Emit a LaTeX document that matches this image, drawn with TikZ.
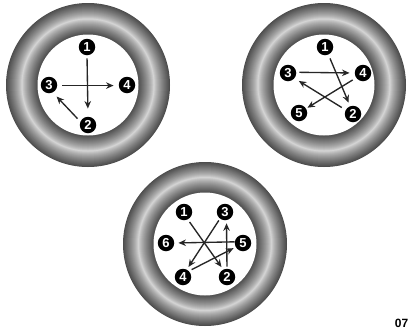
\documentclass[tikz,border=0pt]{standalone}
\usepackage{fontspec}
\setmainfont{Liberation Sans}
\usetikzlibrary{arrows.meta}
\tikzset{
  badge/.style={circle,fill=black,text=white,inner sep=0pt,minimum size=16.5pt,font=\bfseries\fontsize{13}{13}\selectfont},
  seq/.style={draw=black!85,line width=1.35pt,-{Stealth[length=7.5pt,width=6.5pt]}},
  hole/.style={fill=white},
}
\newcommand{\tyre}[3]{% cx, cy, inner radius
  \foreach \r in {82,81.5,...,#3}{
    \pgfmathsetmacro{\t}{abs(\r-(82+#3)/2)/((82-#3)/2)}
    \pgfmathsetmacro{\g}{85-55*\t^0.8}
    \fill[fill=white!\g!black] (#1,#2) circle (\r);
  }
  \fill[hole] (#1,#2) circle (#3);
}
\begin{document}
\begin{tikzpicture}[x=1pt,y=-1pt]
\useasboundingbox (0,0) rectangle (408,330);
\tyre{88}{85}{50.5}
\tyre{324}{85}{50.5}
\tyre{205}{244}{51.5}
% wheel 1
\node[badge] (a1) at (87,47) {1};
\node[badge] (a2) at (88,125) {2};
\node[badge] (a3) at (49,85) {3};
\node[badge] (a4) at (127,85) {4};
\draw[seq,shorten <=3pt,shorten >=8pt] (a1.-90) -- (a2.90);
\draw[seq,shorten <=5pt,shorten >=5pt] (a3.-4) -- (a4.184);
\draw[seq,shorten <=4pt,shorten >=5.5pt] (a2.156) -- (a3.-63);
% wheel 2
\node[badge] (b1) at (325,47) {1};
\node[badge] (b2) at (353,114) {2};
\node[badge] (b3) at (288,73) {3};
\node[badge] (b4) at (363,73) {4};
\node[badge] (b5) at (299,113) {5};
\draw[seq,shorten <=4pt,shorten >=3.7pt] (b1.-66) -- (b2.110);
\draw[seq,shorten <=3pt,shorten >=5pt] (b3.5) -- (b4.180);
\draw[seq,shorten <=4pt,shorten >=1.5pt] (b4.215) -- (b5.32);
\draw[seq,shorten <=4.5pt,shorten >=5pt] (b2.151) -- (b3.-39);
% wheel 3
\node[badge] (c1) at (184,212) {1};
\node[badge] (c2) at (227,277) {2};
\node[badge] (c3) at (225,212) {3};
\node[badge] (c4) at (183,277) {4};
\node[badge] (c5) at (243,243) {5};
\node[badge] (c6) at (166,243) {6};
\draw[seq,shorten <=3pt,shorten >=3pt] (c1.-63) -- (c2.117);
\draw[seq,shorten <=2pt,shorten >=3pt] (c2.90) -- (c3.-80);
\draw[seq,shorten <=2pt,shorten >=3pt] (c3.233) -- (c4.63);
\draw[seq,shorten <=3pt,shorten >=2.3pt] (c4.45) -- (c5.209);
\draw[seq,shorten >=4pt] (c5.172) -- (c6.0);
\node[font=\bfseries\fontsize{12}{12}\selectfont,anchor=east,inner sep=0pt] (code) at (408.5,323) {07};
\end{tikzpicture}
\end{document}
